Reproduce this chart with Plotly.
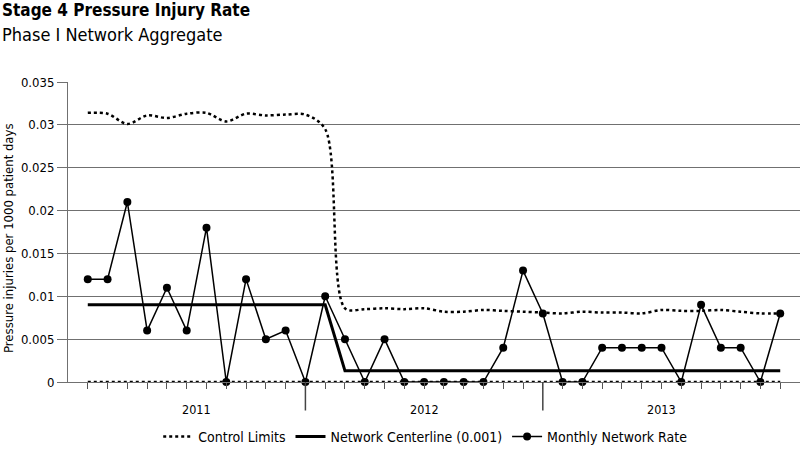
import plotly.graph_objects as go

# Данные, 36 месяцев: январь 2011 - декабрь 2013
month_idx = list(range(36))
years = ["2011", "2012", "2013"]
year_centers = [5.5, 17, 29]
year_breaks = [11, 23]

monthly_rate = [0.012, 0.012, 0.021, 0.006, 0.011, 0.006, 0.018, 0.0, 0.012, 0.005, 0.006, 0.0,
                0.010, 0.005, 0.0, 0.005, 0.0, 0.0, 0.0, 0.0, 0.0, 0.004, 0.013, 0.008,
                0.0, 0.0, 0.004, 0.004, 0.004, 0.004, 0.0, 0.009, 0.004, 0.004, 0.0, 0.008]

centerline = [0.009, 0.009, 0.009, 0.009, 0.009, 0.009, 0.009, 0.009, 0.009, 0.009, 0.009, 0.009,
              0.009, 0.0013, 0.0013, 0.0013, 0.0013, 0.0013, 0.0013, 0.0013, 0.0013, 0.0013, 0.0013, 0.0013,
              0.0013, 0.0013, 0.0013, 0.0013, 0.0013, 0.0013, 0.0013, 0.0013, 0.0013, 0.0013, 0.0013, 0.0013]

upper_limit = [0.0314, 0.0313, 0.0301, 0.0311, 0.0308, 0.0313, 0.0314, 0.0304, 0.0313, 0.0311, 0.0312, 0.0312,
               0.0295, 0.0086, 0.0085, 0.0086, 0.0085, 0.0086, 0.0082, 0.0082, 0.0084, 0.0083, 0.0082, 0.0081,
               0.0080, 0.0082, 0.0081, 0.0081, 0.0080, 0.0084, 0.0083, 0.0083, 0.0084, 0.0082, 0.0080, 0.0080]

lower_limit = [0.0, 0.0, 0.0, 0.0, 0.0, 0.0, 0.0, 0.0, 0.0, 0.0, 0.0, 0.0,
               0.0, 0.0, 0.0, 0.0, 0.0, 0.0, 0.0, 0.0, 0.0, 0.0, 0.0, 0.0,
               0.0, 0.0, 0.0, 0.0, 0.0, 0.0, 0.0, 0.0, 0.0, 0.0, 0.0, 0.0]

y_tick_vals = [0, 0.005, 0.01, 0.015, 0.02, 0.025, 0.03, 0.035]
y_tick_labels = ["0", "0.005", "0.01", "0.015", "0.02", "0.025", "0.03", "0.035"]

FONT = "Liberation Sans Narrow, DejaVu Sans Condensed, Arial Narrow, sans-serif"
GRID = "#707070"

fig = go.Figure()

# Контрольные границы (пунктир)
fig.add_trace(go.Scatter(x=month_idx, y=upper_limit, mode='lines', name='Control Limits',
                         line=dict(color='black', width=2.5, dash='dot', shape='spline', smoothing=0.9),
                         cliponaxis=False, legendrank=1))
fig.add_trace(go.Scatter(x=month_idx, y=lower_limit, mode='lines', name='Control Limits',
                         line=dict(color='black', width=2.5, dash='dot'),
                         showlegend=False, cliponaxis=False))

# Центральная линия
fig.add_trace(go.Scatter(x=month_idx, y=centerline, mode='lines', name='Network Centerline (0.001)',
                         line=dict(color='black', width=3), legendrank=2))

# Месячный показатель
fig.add_trace(go.Scatter(x=month_idx, y=monthly_rate, mode='lines+markers', name='Monthly Network Rate',
                         line=dict(color='black', width=1.5),
                         marker=dict(color='black', size=8, symbol='circle'),
                         cliponaxis=False, legendrank=3))

# Разделители лет
for b in year_breaks:
    fig.add_shape(type='line', xref='x', yref='paper', x0=b, x1=b, y0=0, y1=-0.095,
                  line=dict(color='#444444', width=1.5))

# Подписи лет
for yr, cx in zip(years, year_centers):
    fig.add_annotation(x=cx, y=-0.09, xref='x', yref='paper', text=yr, showarrow=False,
                       yanchor='middle', font=dict(size=12.5, color='black', family=FONT))

# Заголовки
fig.add_annotation(x=-0.0929, y=1.239, xref='paper', yref='paper', xanchor='left', yanchor='middle',
                   text='<b>Stage 4 Pressure Injury Rate</b>', showarrow=False,
                   font=dict(size=17, color='black', family=FONT))
fig.add_annotation(x=-0.0929, y=1.159, xref='paper', yref='paper', xanchor='left', yanchor='middle',
                   text='Phase I Network Aggregate', showarrow=False,
                   font=dict(size=18, color='black', family=FONT))

# Подпись оси Y
fig.add_annotation(x=-0.082, y=0.48, xref='paper', yref='paper', xanchor='center', yanchor='middle',
                   text='Pressure injuries per 1000 patient days', textangle=-90, showarrow=False,
                   font=dict(size=13, color='black', family=FONT))

fig.update_layout(
    width=800, height=457,
    margin=dict(l=68, r=0, t=82, b=75),
    plot_bgcolor='white', paper_bgcolor='white',
    font=dict(family=FONT, size=13, color='black'),
    showlegend=True,
    legend=dict(orientation='h', x=0.488, xanchor='center', y=-0.183, yanchor='middle',
                font=dict(size=14, family=FONT), itemwidth=30, bgcolor='rgba(0,0,0,0)'),
    xaxis=dict(range=[-1, 36], tickmode='array', tickvals=month_idx, ticktext=['' for _ in month_idx],
               ticks='outside', ticklen=6, tickcolor='#555555', showgrid=False, zeroline=False,
               showline=True, linecolor=GRID, fixedrange=True, automargin=False),
    yaxis=dict(range=[0, 0.035], tickmode='array', tickvals=y_tick_vals, ticktext=y_tick_labels,
               ticks='outside', ticklen=10, tickcolor=GRID, showgrid=True, gridcolor=GRID, gridwidth=1,
               zeroline=False, showline=True, linecolor=GRID, tickfont=dict(size=13, family=FONT),
               fixedrange=True, automargin=False),
)

# убрать отступ страницы, чтобы график стоял в (0, 0)
fig.write_html("out.html", config={'displayModeBar': False},
               post_script="document.body.style.margin='0';")
